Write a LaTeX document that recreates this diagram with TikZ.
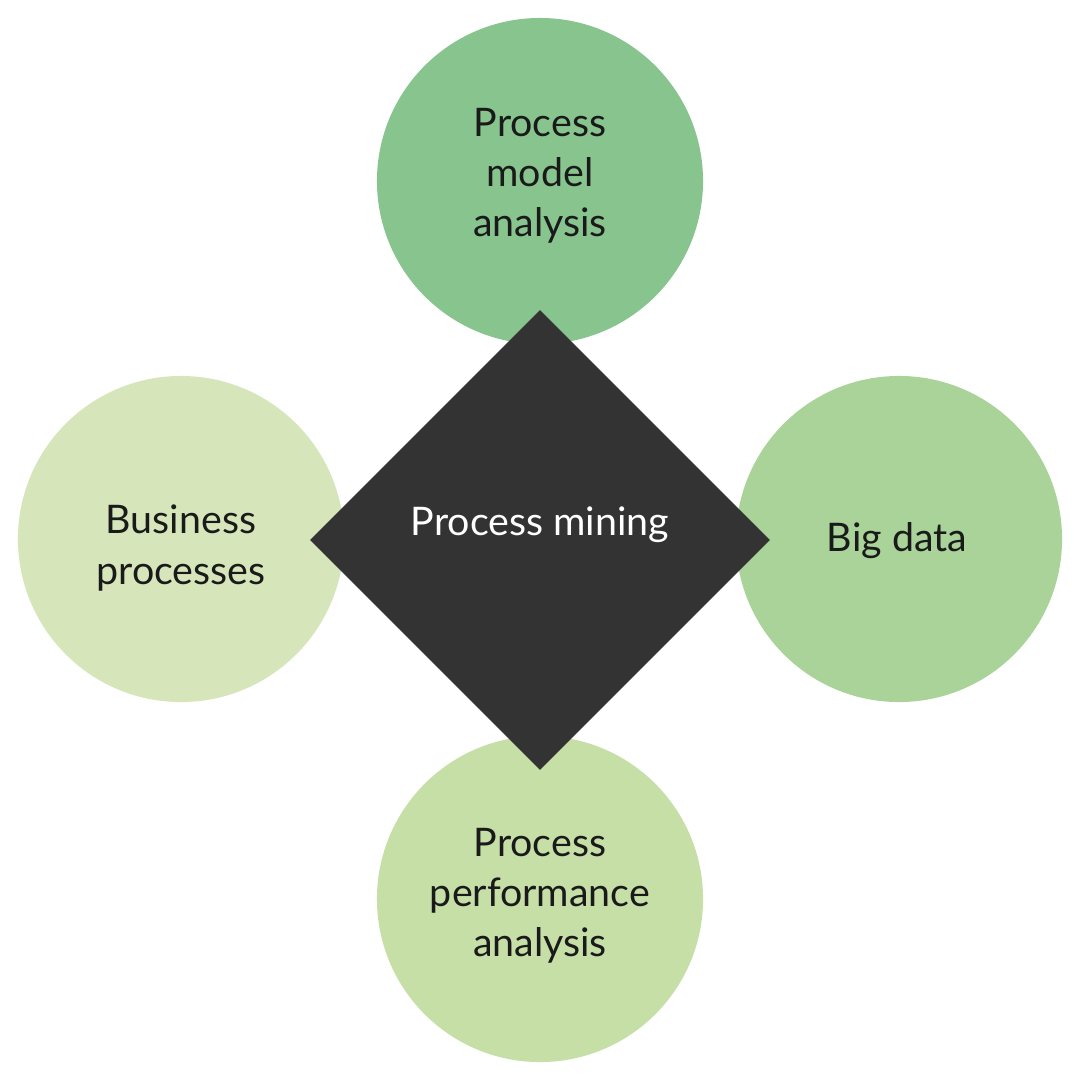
\documentclass[tikz,border=0pt]{standalone}
\usepackage{fontspec}
\setmainfont{Lato}
\usetikzlibrary{shapes.geometric}
\definecolor{cTop}{HTML}{88C58E}
\definecolor{cLeft}{HTML}{D6E6BA}
\definecolor{cRight}{HTML}{A9D399}
\definecolor{cBottom}{HTML}{C6DFA7}
\definecolor{cDia}{HTML}{333333}
\definecolor{cText}{HTML}{1A1A1A}
\tikzset{
  bubble/.style={circle, draw=none, minimum size=8.15cm, inner sep=0pt},
  bubbletext/.style={align=center, text=cText, inner sep=0pt, font=\fontsize{28}{35.6}\selectfont},
  centerdia/.style={diamond, aspect=1, draw=none, fill=cDia, minimum width=11.5cm, minimum height=11.5cm, inner sep=0pt},
  centertext/.style={text=white, font=\fontsize{28}{35.6}\selectfont, inner sep=0pt}
}
\begin{document}
\begin{tikzpicture}[x=0.025cm, y=-0.025cm]
\useasboundingbox[fill=white] (0,0) rectangle (1080,1080);
\node[bubble, fill=cTop] (top) at (540,181) {};
\node[bubble, fill=cLeft] (left) at (181,539) {};
\node[bubble, fill=cRight] (right) at (899,539) {};
\node[bubble, fill=cBottom] (bottom) at (540,899) {};
\node[bubbletext] (toptext) at (540,176) {Process\\model\\analysis};
\node[bubbletext] (lefttext) at (181,548) {Business\\processes};
\node[bubbletext] (righttext) at (897,541) {Big data};
\node[bubbletext] (bottomtext) at (540,896) {Process\\performance\\analysis};
\node[centerdia] (pm) at (540,540) {};
\node[centertext] (pmtext) at (540,525) {Process mining};
\end{tikzpicture}
\end{document}
